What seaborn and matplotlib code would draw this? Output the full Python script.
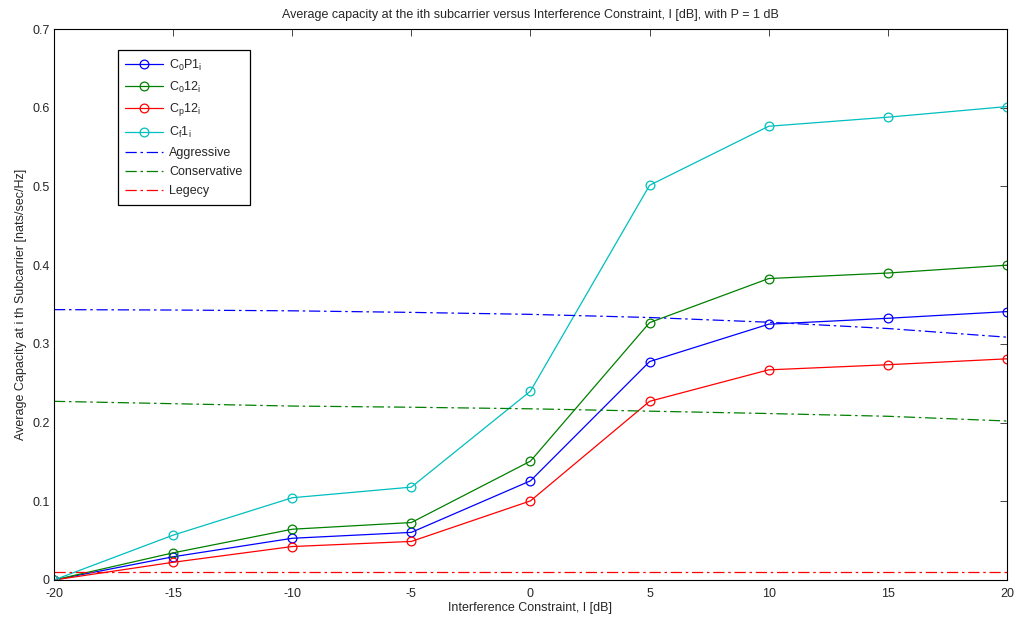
import numpy as np
import pandas as pd
import seaborn as sns
import matplotlib.pyplot as plt

# interference constraint I [dB]
interference = [-20, -15, -10, -5, 0, 5, 10, 15, 20]

# capacity curves
c0p1 = [0.0, 0.0295, 0.053, 0.0605, 0.126, 0.2775, 0.325, 0.3325, 0.341]
c012 = [0.0, 0.0345, 0.0645, 0.073, 0.151, 0.327, 0.383, 0.390, 0.400]
cp12 = [0.0, 0.0225, 0.0425, 0.049, 0.1005, 0.227, 0.267, 0.2735, 0.281]
cf1 = [0.0, 0.057, 0.1045, 0.118, 0.240, 0.5015, 0.5765, 0.588, 0.6015]

# reference schemes
aggressive = [0.3435, 0.343, 0.342, 0.340, 0.3375, 0.3335, 0.3275, 0.3195, 0.3085]
conservative = [0.227, 0.224, 0.221, 0.2195, 0.2175, 0.2145, 0.2115, 0.208, 0.202]
legacy = [0.01] * 9

sns.set_style("white")
plt.rcParams['font.family'] = ['Liberation Sans', 'DejaVu Sans']
plt.rcParams['mathtext.fontset'] = 'custom'
plt.rcParams['mathtext.rm'] = 'Liberation Sans'
plt.rcParams['mathtext.it'] = 'Liberation Sans'
plt.rcParams['font.size'] = 9
plt.rcParams['axes.unicode_minus'] = False

fig = plt.figure(figsize=(10.17, 6.18), dpi=100)
ax = fig.add_axes([0.0531, 0.0615, 0.9370, 0.8915])

solid = [
    (c0p1, (0, 0, 1), r'$\mathregular{C_0P1_i}$'),
    (c012, (0, 0.5, 0), r'$\mathregular{C_012_i}$'),
    (cp12, (1, 0, 0), r'$\mathregular{C_p12_i}$'),
    (cf1, (0, 0.75, 0.75), r'$\mathregular{C_f1_i}$'),
]
for vals, col, lab in solid:
    sns.lineplot(x=interference, y=vals, ax=ax, color=col, label=lab,
                 marker='o', markersize=6.3, markerfacecolor='none',
                 markeredgecolor=col, markeredgewidth=0.9, linewidth=0.9)

dashed = [
    (aggressive, (0, 0, 1), 'Aggressive'),
    (conservative, (0, 0.5, 0), 'Conservative'),
    (legacy, (1, 0, 0), 'Legecy'),
]
for vals, col, lab in dashed:
    sns.lineplot(x=interference, y=vals, ax=ax, color=col, label=lab,
                 linestyle=(0, (9, 3, 2, 3)), linewidth=0.9)

ax.set_xlim(-20, 20)
ax.set_ylim(0, 0.7)
ax.set_xticks(np.arange(-20, 21, 5))
ax.set_yticks(np.arange(0, 0.71, 0.1))
ax.set_yticklabels(['0', '0.1', '0.2', '0.3', '0.4', '0.5', '0.6', '0.7'])
ax.tick_params(direction='in', top=True, right=True, length=5, width=0.6,
               labelsize=9)
ax.tick_params(axis='x', pad=6)
ax.tick_params(axis='y', pad=3)
for s in ax.spines.values():
    s.set_color('black')
    s.set_linewidth(0.8)

ax.set_title('Average capacity at the ith subcarrier versus Interference Constraint, I [dB], with P = 1 dB',
             fontsize=9, pad=8)
ax.set_xlabel('Interference Constraint, I [dB]', fontsize=9, labelpad=1)
ax.set_ylabel('Average Capacity at i th Subcarrier [nats/sec/Hz]', fontsize=9, labelpad=4)

leg = ax.legend(loc='upper left', bbox_to_anchor=(0.067, 0.962), borderaxespad=0,
                fancybox=False, edgecolor='black', framealpha=1, fontsize=9,
                handlelength=3.0, labelspacing=0.55, borderpad=0.6, handletextpad=0.5)
leg.get_frame().set_linewidth(0.9)

fig.savefig('out.png', dpi=100)
